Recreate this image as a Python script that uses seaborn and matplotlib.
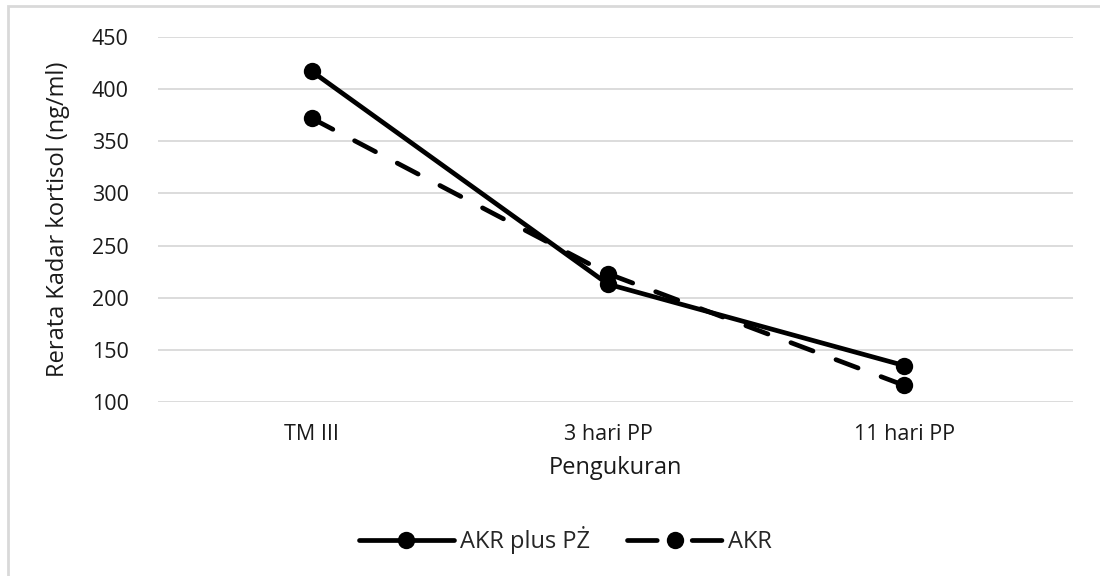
import matplotlib

matplotlib.use("Agg")
import matplotlib.pyplot as plt
import pandas as pd
import seaborn as sns
from matplotlib.patches import Rectangle

# Data
pengukuran = ["TM III", "3 hari PP", "11 hari PP"]
akr_plus_pz = [417, 213, 135]
akr = [372, 223, 116]
series_names = ["AKR plus PŻ", "AKR"]
y_ticks = [100, 150, 200, 250, 300, 350, 400, 450]

df = pd.DataFrame(
    {
        "Pengukuran": pengukuran * 2,
        "Kadar": akr_plus_pz + akr,
        "Kelompok": [series_names[0]] * 3 + [series_names[1]] * 3,
    }
)

sns.set_theme(style="white")
plt.rcParams["font.family"] = ["Open Sans", "DejaVu Sans"]

fig = plt.figure(figsize=(11, 5.76), dpi=100)
ax = fig.add_axes([0.1436, 0.302, 0.8318, 0.6338])

sns.lineplot(
    data=df,
    x="Pengukuran",
    y="Kadar",
    style="Kelompok",
    style_order=series_names,
    markers={series_names[0]: "o", series_names[1]: "o"},
    dashes={series_names[0]: "", series_names[1]: (5.0, 5.2)},
    color="black",
    linewidth=3.4,
    markersize=12.5,
    markeredgewidth=0,
    dash_capstyle="round",
    ax=ax,
)

ax.set_ylim(100, 450)
ax.set_yticks(y_ticks)
ax.set_xlim(-0.52, 2.57)
ax.yaxis.grid(True, color="#d9d9d9", linewidth=1.3)
ax.xaxis.grid(False)
for spine in ax.spines.values():
    spine.set_visible(False)
ax.tick_params(axis="both", length=0, labelsize=15.5, colors="#1a1a1a")
ax.tick_params(axis="y", pad=21)
ax.tick_params(axis="x", pad=16)
ax.set_xlabel("Pengukuran", fontsize=17, color="#1a1a1a", labelpad=8)
ax.set_ylabel("Rerata Kadar kortisol (ng/ml)", fontsize=17, color="#1a1a1a", labelpad=16)

handles, labels = ax.get_legend_handles_labels()
ax.legend_.remove()
leg = fig.legend(
    handles,
    labels,
    loc="center",
    bbox_to_anchor=(0.514, 0.062),
    ncol=2,
    frameon=False,
    fontsize=17,
    handlelength=4.0,
    columnspacing=1.6,
    handletextpad=0.25,
)
# symmetric dash-dot-dash look for the dashed legend sample
leg.get_lines()[1].set_dashes((6.3, 7.4))
leg.get_lines()[1].set_dash_capstyle("round")

# light grey outer frame like the source export
fig.patches.append(
    Rectangle(
        (0.0073, -0.02),
        1.02,
        1.0096,
        transform=fig.transFigure,
        fill=False,
        edgecolor="#d9d9d9",
        linewidth=2,
    )
)

fig.savefig("out.png", dpi=100)
plt.close(fig)
